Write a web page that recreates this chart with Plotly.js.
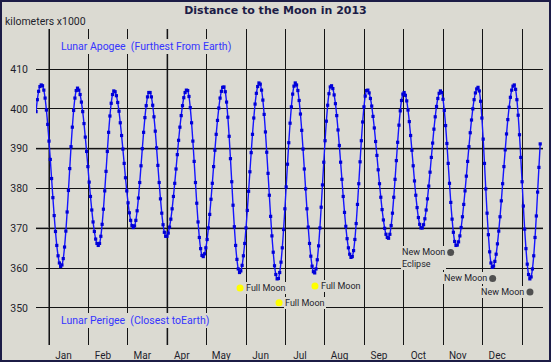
<!DOCTYPE html>
<html>
<head>
<meta charset="utf-8">
<script src="https://cdn.plot.ly/plotly-3.0.1.min.js"></script>
<style>
  html, body { margin: 0; padding: 0; background: #dbdad2; }
  #chart { width: 551px; height: 362px; }
</style>
</head>
<body>
<div id="chart"></div>
<script>
// ---- data ----
// daily Earth–Moon distance, km x1000, first value is day -10 (Dec 22, 2012)
const firstDay = -10;
const distance = [
  399.3, 402.3, 404.4, 405.6, 406.0, 405.8, 404.7, 402.7, 399.7, 396.1,
  391.9, 387.3, 382.5, 377.7, 373.2, 369.2, 365.7, 363.1, 361.3, 360.4,
  360.8, 362.4, 365.3, 369.3, 374.1, 379.5, 385.0, 390.5, 395.4, 399.6,
  402.7, 404.6, 405.2, 404.7, 403.6, 401.7, 399.3, 396.3, 392.9, 389.3,
  385.5, 381.6, 378.0, 374.6, 371.6, 369.2, 367.3, 366.2, 365.7, 366.2,
  368.0, 371.0, 374.8, 379.4, 384.3, 389.3, 394.1, 398.2, 401.4, 403.6,
  404.5, 404.3, 403.3, 401.6, 399.4, 396.5, 393.3, 389.9, 386.3, 382.7,
  379.4, 376.4, 373.9, 372.0, 370.7, 370.2, 370.6, 372.0, 374.4, 377.6,
  381.5, 385.7, 390.0, 394.1, 397.8, 400.8, 403.0, 404.1, 404.1, 403.0,
  400.9, 398.0, 394.4, 390.2, 385.8, 381.5, 377.4, 373.8, 370.9, 369.0,
  368.0, 368.0, 368.8, 370.3, 372.3, 374.9, 378.0, 381.3, 384.9, 388.5,
  392.1, 395.4, 398.3, 400.8, 402.8, 404.1, 404.7, 404.6, 403.1, 400.3,
  396.5, 391.9, 386.8, 381.5, 376.3, 371.6, 367.7, 364.9, 363.2, 362.9,
  363.6, 365.1, 367.2, 370.1, 373.5, 377.3, 381.3, 385.5, 389.6, 393.6,
  397.1, 400.2, 402.7, 404.4, 405.4, 405.5, 404.3, 401.7, 397.9, 393.1,
  387.5, 381.7, 375.8, 370.4, 365.7, 362.2, 359.8, 358.9, 359.3, 360.7,
  363.1, 366.2, 370.1, 374.5, 379.3, 384.2, 389.0, 393.6, 397.7, 401.2,
  403.9, 405.6, 406.5, 406.2, 404.7, 402.2, 398.6, 394.2, 389.1, 383.8,
  378.3, 373.0, 368.1, 364.0, 360.6, 358.4, 357.3, 357.4, 358.9, 361.5,
  365.1, 369.7, 374.9, 380.4, 386.1, 391.5, 396.4, 400.5, 403.7, 405.7,
  406.5, 406.0, 404.6, 402.1, 398.7, 394.6, 389.9, 384.9, 379.9, 374.9,
  370.3, 366.2, 363.0, 360.5, 359.1, 358.8, 359.8, 362.1, 365.6, 370.1,
  375.3, 380.9, 386.6, 392.0, 396.9, 400.9, 403.8, 405.5, 405.8, 405.1,
  403.5, 401.3, 398.3, 394.7, 390.8, 386.6, 382.3, 378.0, 374.0, 370.5,
  367.4, 365.1, 363.5, 362.7, 362.9, 364.4, 367.2, 371.2, 376.0, 381.2,
  386.7, 392.0, 396.7, 400.5, 403.2, 404.6, 404.7, 404.0, 402.6, 400.7,
  398.1, 395.2, 391.8, 388.3, 384.7, 381.2, 377.8, 374.7, 372.1, 370.0,
  368.5, 367.7, 367.5, 368.5, 370.7, 373.8, 377.8, 382.3, 387.0, 391.6,
  395.9, 399.5, 402.1, 403.7, 404.1, 403.4, 402.0, 399.7, 396.8, 393.3,
  389.6, 385.7, 381.9, 378.3, 375.2, 372.7, 371.0, 370.1, 370.1, 370.9,
  372.4, 374.6, 377.4, 380.6, 384.1, 387.8, 391.4, 394.9, 398.0, 400.6,
  402.6, 403.9, 404.5, 404.1, 402.4, 399.6, 395.8, 391.3, 386.3, 381.3,
  376.5, 372.3, 369.0, 366.7, 365.7, 365.8, 366.6, 368.1, 370.2, 372.9,
  376.0, 379.4, 383.1, 386.8, 390.5, 394.0, 397.2, 400.0, 402.3, 404.0,
  405.0, 405.4, 404.5, 401.9, 397.7, 392.4, 386.3, 379.9, 373.8, 368.4,
  364.1, 361.3, 360.2, 360.5, 361.7, 363.5, 366.1, 369.3, 372.9, 376.9,
  381.2, 385.5, 389.7, 393.7, 397.3, 400.4, 402.9, 404.7, 405.7, 406.0,
  404.9, 402.3, 398.4, 393.5, 387.8, 381.7, 375.6, 369.8, 364.9, 361.0,
  358.4, 357.3, 357.8, 359.8, 363.1, 367.7, 373.1, 379.1, 385.3, 391.2
];

const monthNames = ['Jan','Feb','Mar','Apr','May','Jun','Jul','Aug','Sep','Oct','Nov','Dec'];

const fullMoonDay = [147.4, 177.5, 205.2];
const fullMoonKm  = [355.0, 351.3, 355.5];
const fullMoonLabel = ['Full Moon', 'Full Moon', 'Full Moon'];

const newMoonDay = [309.9, 342.3, 371.1];
const newMoonKm  = [363.9, 357.4, 354.0];
const newMoonLabel = ['New Moon<br>Eclipse', 'New Moon', 'New Moon'];

const yTickVals = [350, 360, 370, 380, 390, 400, 410, 420];
const yTickText = ['350', '360', '370', '380', '390', '400', '410', ''];

const titleText = 'Distance to the Moon in 2013';
const unitText = 'kilometers x1000';
const apogeeText = 'Lunar Apogee \u00a0(Furthest From Earth)';
const perigeeText = 'Lunar Perigee \u00a0(Closest toEarth)';

// ---- build ----
const days = distance.map((_, i) => firstDay + i);
const monthLen = 365 / 12;
const monthStarts = [];
for (let k = 0; k <= 12; k++) monthStarts.push(k * monthLen);
// month names sit a little to the left of the middle of each month band
const labelOffsetDays = 11.2;
const monthLabelPos = monthNames.map((_, k) => k * monthLen + labelOffsetDays);

const BG = '#dbdad2';
const INK = '#1e1e2c';
const NAVY = '#1c1c46';
const XRANGE = [-10.03, 381.15];

const traces = [
  {
    x: days, y: distance, type: 'scatter', mode: 'lines+markers',
    line: { color: '#1414ff', width: 1.4, shape: 'spline', smoothing: 0.6 },
    marker: { symbol: 'square', size: 3.2, color: '#0000d8' },
    hoverinfo: 'skip', showlegend: false
  },
  {
    x: fullMoonDay, y: fullMoonKm, type: 'scatter', mode: 'markers',
    marker: { size: 7, color: '#ffff00' },
    hoverinfo: 'skip', showlegend: false
  },
  {
    x: newMoonDay, y: newMoonKm, type: 'scatter', mode: 'markers',
    marker: { size: 7, color: '#505050' },
    hoverinfo: 'skip', showlegend: false
  },
  // invisible helper so the label axis (x2) is drawn
  {
    x: monthLabelPos, y: monthLabelPos.map(() => null), xaxis: 'x2', yaxis: 'y',
    type: 'scatter', mode: 'markers', hoverinfo: 'skip', showlegend: false
  }
];

const annotations = [];
fullMoonDay.forEach((d, i) => {
  annotations.push({
    x: d, y: fullMoonKm[i], xref: 'x', yref: 'y', text: fullMoonLabel[i],
    showarrow: false, xanchor: 'left', yanchor: 'middle', xshift: 5,
    font: { family: 'Roboto', size: 9, color: INK },
    bgcolor: BG, borderpad: 1, borderwidth: 0
  });
});
newMoonDay.forEach((d, i) => {
  const twoLine = newMoonLabel[i].indexOf('<br>') >= 0;
  annotations.push({
    x: d, y: newMoonKm[i], xref: 'x', yref: 'y', text: newMoonLabel[i],
    showarrow: false, xanchor: 'right', yanchor: twoLine ? 'top' : 'middle',
    yshift: twoLine ? 7 : 0, xshift: -5, align: 'left',
    font: { family: 'Roboto', size: 9, color: INK },
    bgcolor: BG, borderpad: 1, borderwidth: 0
  });
});
annotations.push({
  x: (60 - 36) / 507, y: (345 - 46.7) / 316, xref: 'paper', yref: 'paper',
  text: apogeeText, showarrow: false, xanchor: 'left', yanchor: 'middle',
  font: { family: 'Roboto', size: 10.5, color: '#3535ff' },
  bgcolor: BG, borderpad: 1, borderwidth: 0
});
annotations.push({
  x: (60 - 36) / 507, y: (345 - 320) / 316, xref: 'paper', yref: 'paper',
  text: perigeeText, showarrow: false, xanchor: 'left', yanchor: 'middle',
  font: { family: 'Roboto', size: 10.5, color: '#3535ff' },
  bgcolor: BG, borderpad: 1, borderwidth: 0
});
annotations.push({
  x: (3 - 36) / 507, y: (345 - 21.5) / 316, xref: 'paper', yref: 'paper',
  text: unitText, showarrow: false, xanchor: 'left', yanchor: 'middle',
  font: { family: 'Roboto', size: 10.5, color: INK }
});

const shapes = [
  // heavier grey grid lines
  { type: 'line', xref: 'x', yref: 'paper', x0: monthStarts[0], x1: monthStarts[0], y0: 0, y1: 1,
    line: { color: '#6e6e6e', width: 2 }, layer: 'between' },
  { type: 'line', xref: 'x', yref: 'paper', x0: monthStarts[3], x1: monthStarts[3], y0: 0, y1: 1,
    line: { color: '#6e6e6e', width: 2 }, layer: 'between' },
  { type: 'line', xref: 'paper', yref: 'y', x0: 0, x1: 1, y0: 390, y1: 390,
    line: { color: '#6e6e6e', width: 2 }, layer: 'between' },
  { type: 'line', xref: 'paper', yref: 'y', x0: 0, x1: 1, y0: 370, y1: 370,
    line: { color: '#6e6e6e', width: 2 }, layer: 'between' },
  // outer frame
  { type: 'rect', xref: 'paper', yref: 'paper',
    x0: (1 - 36) / 507, x1: (550 - 36) / 507, y0: (345 - 361) / 316, y1: (345 - 1) / 316,
    line: { color: NAVY, width: 2 }, fillcolor: 'rgba(0,0,0,0)', layer: 'above' }
];

const layout = {
  width: 551, height: 362,
  margin: { l: 36, r: 8, t: 29, b: 17, pad: 0 },
  paper_bgcolor: BG, plot_bgcolor: BG,
  showlegend: false,
  title: {
    text: titleText, x: 0.5, xref: 'container', xanchor: 'center',
    y: 1 - 10.5 / 362, yref: 'container', yanchor: 'middle',
    font: { family: 'DejaVu Sans', size: 11, weight: 'bold', color: NAVY }
  },
  xaxis: {
    range: XRANGE, tickmode: 'array', tickvals: monthStarts, showticklabels: false,
    ticks: '', showgrid: true, gridcolor: '#141414', gridwidth: 1,
    zeroline: false, showline: false, automargin: false, fixedrange: true
  },
  xaxis2: {
    overlaying: 'x', anchor: 'y', side: 'bottom', matches: undefined,
    range: XRANGE, tickmode: 'array', tickvals: monthLabelPos, ticktext: monthNames,
    ticks: '', ticklabelstandoff: 3, showgrid: false, zeroline: false, showline: false,
    automargin: false, fixedrange: true,
    tickfont: { family: 'Roboto', size: 10, color: INK }
  },
  yaxis: {
    range: [340.7, 420.05], tickmode: 'array', tickvals: yTickVals, ticktext: yTickText,
    ticks: '', ticklabelstandoff: 7, showgrid: true, gridcolor: '#141414', gridwidth: 1,
    zeroline: false, showline: false, automargin: false, fixedrange: true,
    tickfont: { family: 'Roboto', size: 10.5, color: INK }
  },
  annotations: annotations,
  shapes: shapes
};

Plotly.newPlot('chart', traces, layout, { displayModeBar: false, staticPlot: true });
</script>
</body>
</html>
